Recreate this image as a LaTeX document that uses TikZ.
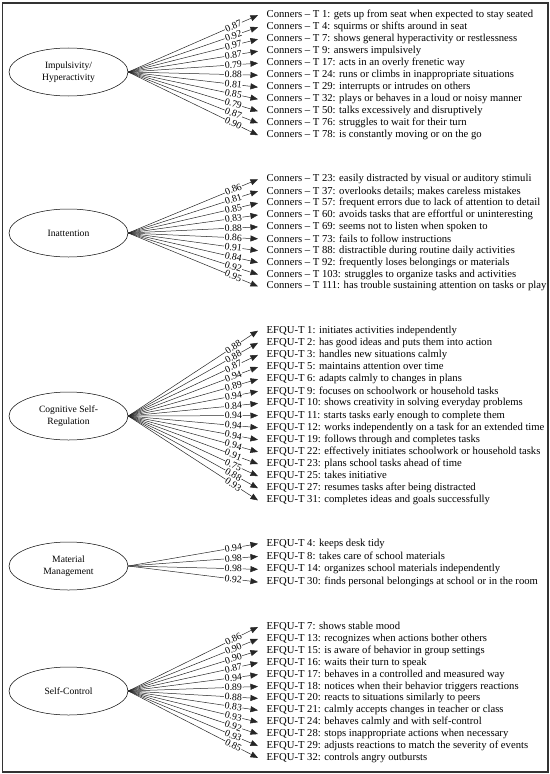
\documentclass[tikz,border=0pt]{standalone}
\usepackage{fontspec}
\setmainfont{Liberation Serif}
\usetikzlibrary{arrows.meta,shapes.geometric}

\tikzset{
  factor/.style={draw, ellipse, minimum width=119bp, minimum height=48bp,
    inner sep=0pt, align=center, line width=0.5bp,
    font=\fontsize{9.6bp}{12.5bp}\selectfont},
  indicator/.style={anchor=west, inner ysep=0pt, inner xsep=8.5bp,
    font=\fontsize{10.65bp}{12bp}\selectfont},
  link/.style={line width=0.5bp, draw=black!85,
    -{Triangle[length=7.5bp,width=6bp]}},
  loading/.style={sloped, pos=0.81, fill=white, inner xsep=0.6bp,
    inner ysep=0pt, font=\fontsize{9.8bp}{9.8bp}\selectfont}
}

\begin{document}
\begin{tikzpicture}[x=1bp,y=-1bp]
    \useasboundingbox (0,0) rectangle (550,774);
    \draw[line width=1.3bp, black!80] (2.7,3) rectangle (548,772);

    % latent factors
    \node[factor] (imp) at (68.5,72) {Impulsivity/\\Hyperactivity};
    \node[factor] (inatt) at (68.5,233) {Inattention};
    \node[factor] (cogreg) at (68.5,416) {Cognitive Self-\\Regulation};
    \node[factor] (matman) at (68.5,566) {Material\\Management};
    \node[factor] (selfctl) at (68.5,691) {Self-Control};

    % Impulsivity/Hyperactivity
    \foreach \val/\txt [count=\i] in {
        0.87/{Conners – T 1: gets up from seat when expected to stay seated},
        0.92/{Conners – T 4: squirms or shifts around in seat},
        0.97/{Conners – T 7: shows general hyperactivity or restlessness},
        0.87/{Conners – T 9: answers impulsively},
        0.79/{Conners – T 17: acts in an overly frenetic way},
        0.88/{Conners – T 24: runs or climbs in inappropriate situations},
        0.81/{Conners – T 29: interrupts or intrudes on others},
        0.85/{Conners – T 32: plays or behaves in a loud or noisy manner},
        0.79/{Conners – T 50: talks excessively and disruptively},
        0.87/{Conners – T 76: struggles to wait for their turn},
        0.90/{Conners – T 78: is constantly moving or on the go}} {
      \node[indicator] (imp-\i) at (258,{15.2+(\i-1)*12}) {\txt};
      \draw[link] (imp.east) -- (imp-\i.west) node[loading] {\val};
    }

    % Inattention
    \foreach \val/\txt [count=\i] in {
        0.86/{Conners – T 23: easily distracted by visual or auditory stimuli},
        0.81/{Conners – T 37: overlooks details; makes careless mistakes},
        0.85/{Conners – T 57: frequent errors due to lack of attention to detail},
        0.83/{Conners – T 60: avoids tasks that are effortful or uninteresting},
        0.88/{Conners – T 69: seems not to listen when spoken to},
        0.86/{Conners – T 73: fails to follow instructions},
        0.91/{Conners – T 88: distractible during routine daily activities},
        0.84/{Conners – T 92: frequently loses belongings or materials},
        0.92/{Conners – T 103: struggles to organize tasks and activities},
        0.95/{Conners – T 111: has trouble sustaining attention on tasks or play}} {
      \node[indicator] (inatt-\i) at (258,{179.3+(\i-1)*11.9}) {\txt};
      \draw[link] (inatt.east) -- (inatt-\i.west) node[loading] {\val};
    }

    % Cognitive Self-Regulation
    \foreach \val/\txt [count=\i] in {
        0.88/{EFQU-T 1: initiates activities independently},
        0.88/{EFQU-T 2: has good ideas and puts them into action},
        0.87/{EFQU-T 3: handles new situations calmly},
        0.94/{EFQU-T 5: maintains attention over time},
        0.89/{EFQU-T 6: adapts calmly to changes in plans},
        0.94/{EFQU-T 9: focuses on schoolwork or household tasks},
        0.84/{EFQU-T 10: shows creativity in solving everyday problems},
        0.94/{EFQU-T 11: starts tasks early enough to complete them},
        0.94/{EFQU-T 12: works independently on a task for an extended time},
        0.94/{EFQU-T 19: follows through and completes tasks},
        0.94/{EFQU-T 22: effectively initiates schoolwork or household tasks},
        0.91/{EFQU-T 23: plans school tasks ahead of time},
        0.75/{EFQU-T 25: takes initiative},
        0.88/{EFQU-T 27: resumes tasks after being distracted},
        0.93/{EFQU-T 31: completes ideas and goals successfully}} {
      \node[indicator] (cogreg-\i) at (258,{330.7+(\i-1)*12.12}) {\txt};
      \draw[link] (cogreg.east) -- (cogreg-\i.west) node[loading] {\val};
    }

    % Material Management
    \foreach \val/\txt [count=\i] in {
        0.94/{EFQU-T 4: keeps desk tidy},
        0.98/{EFQU-T 8: takes care of school materials},
        0.98/{EFQU-T 14: organizes school materials independently},
        0.92/{EFQU-T 30: finds personal belongings at school or in the room}} {
      \node[indicator] (matman-\i) at (258,{543.7+(\i-1)*12.8}) {\txt};
      \draw[link] (matman.east) -- (matman-\i.west) node[loading] {\val};
    }

    % Self-Control
    \foreach \val/\txt [count=\i] in {
        0.86/{EFQU-T 7: shows stable mood},
        0.90/{EFQU-T 13: recognizes when actions bother others},
        0.90/{EFQU-T 15: is aware of behavior in group settings},
        0.87/{EFQU-T 16: waits their turn to speak},
        0.94/{EFQU-T 17: behaves in a controlled and measured way},
        0.89/{EFQU-T 18: notices when their behavior triggers reactions},
        0.88/{EFQU-T 20: reacts to situations similarly to peers},
        0.83/{EFQU-T 21: calmly accepts changes in teacher or class},
        0.93/{EFQU-T 24: behaves calmly and with self-control},
        0.92/{EFQU-T 28: stops inappropriate actions when necessary},
        0.93/{EFQU-T 29: adjusts reactions to match the severity of events},
        0.85/{EFQU-T 32: controls angry outbursts}} {
      \node[indicator] (selfctl-\i) at (258,{627+(\i-1)*11.9}) {\txt};
      \draw[link] (selfctl.east) -- (selfctl-\i.west) node[loading] {\val};
    }
\end{tikzpicture}
\end{document}
